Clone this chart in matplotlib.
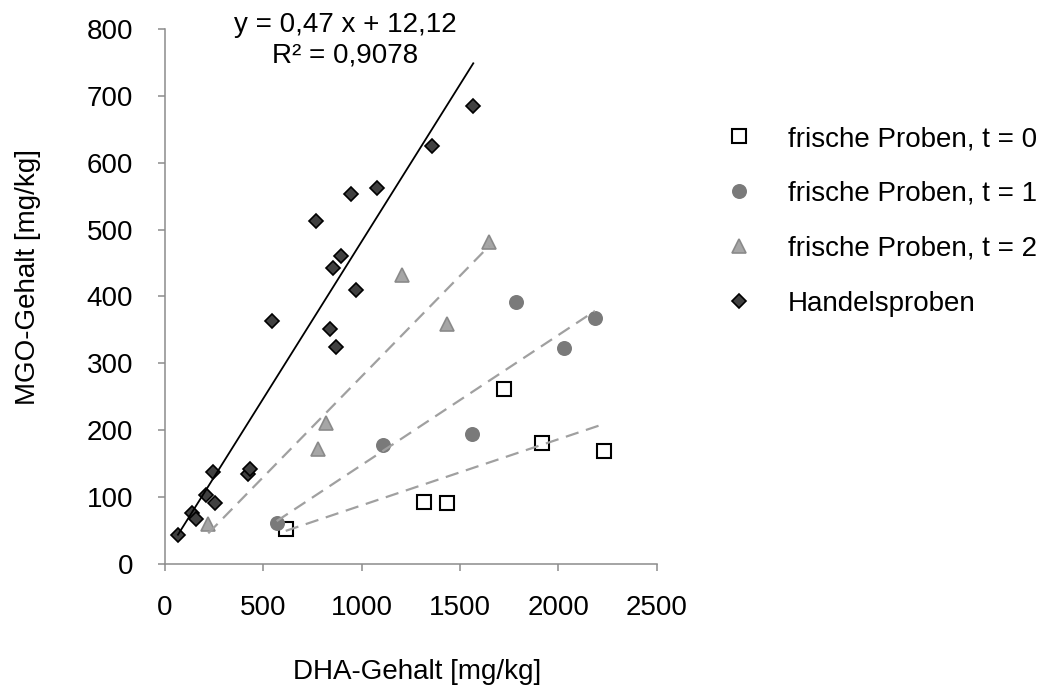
import numpy as np
import matplotlib.pyplot as plt

plt.rcParams['font.family'] = ['Liberation Sans', 'DejaVu Sans']

# DHA / MGO values [mg/kg]
t0_dha = [614, 1319, 1433, 1726, 1916, 2233]
t0_mgo = [51, 92, 90, 261, 181, 168]

t1_dha = [568, 1107, 1560, 1787, 2031, 2187]
t1_mgo = [61, 178, 194, 392, 323, 367]

t2_dha = [220, 780, 817, 1207, 1434, 1650]
t2_mgo = [59, 172, 211, 432, 358, 481]

handel_dha = [66, 136, 156, 209, 246, 254, 424, 432, 543, 768,
              839, 856, 868, 894, 948, 970, 1080, 1360, 1568]
handel_mgo = [43, 76, 66, 103, 137, 91, 134, 141, 363, 513,
              351, 443, 324, 460, 554, 409, 562, 625, 685]

# linear trend for the commercial samples
slope, intercept = 0.47, 12.12
r2 = 0.9078

labels = ["frische Proben, t = 0", "frische Proben, t = 1",
          "frische Proben, t = 2", "Handelsproben"]

fig = plt.figure(figsize=(10.57, 6.91), dpi=100)
ax = fig.add_axes([0.1561, 0.1845, 0.4650, 0.7731])

ax.plot(t0_dha, t0_mgo, 's', ms=10, mfc='white', mec='black', mew=1.5,
        label=labels[0], zorder=3)
ax.plot(t1_dha, t1_mgo, 'o', ms=10.8, mfc='#7a7a7a', mec='#7a7a7a', mew=0,
        label=labels[1], zorder=3)
ax.plot(t2_dha, t2_mgo, '^', ms=10.5, mfc='#a6a6a6', mec='#8a8a8a', mew=1.2,
        label=labels[2], zorder=3)
ax.plot(handel_dha, handel_mgo, 'D', ms=7.4, mfc='#404040', mec='black', mew=1.2,
        label=labels[3], zorder=3)

# dashed trendlines for the fresh samples
for xs, ys in [(t0_dha, t0_mgo), (t1_dha, t1_mgo), (t2_dha, t2_mgo)]:
    m, b = np.polyfit(xs, ys, 1)
    xl = np.array([min(xs), max(xs)])
    ax.plot(xl, m * xl + b, color='#a0a0a0', lw=1.6, dashes=(6, 3.5), zorder=4)

xl = np.array([min(handel_dha), max(handel_dha)])
ax.plot(xl, slope * xl + intercept, color='black', lw=1.3, zorder=4)

eq = "y = " + f"{slope:.2f}".replace('.', ',') + " x + " + f"{intercept:.2f}".replace('.', ',')
eq2 = "R² = " + f"{r2:.4f}".replace('.', ',')
ax.text(916, 784, eq + "\n" + eq2, ha='center', va='center', fontsize=20,
        linespacing=1.22, clip_on=False)

ax.set_xlim(0, 2500)
ax.set_ylim(0, 800)
ax.set_xticks(range(0, 2501, 500))
ax.set_yticks(range(0, 801, 100))

for side in ['top', 'right']:
    ax.spines[side].set_visible(False)
for side in ['left', 'bottom']:
    ax.spines[side].set_color('#8c8c8c')
    ax.spines[side].set_linewidth(1.1)
ax.tick_params(axis='both', direction='out', length=5, width=1.1, color='#8c8c8c',
               labelsize=20, pad=18)

ax.set_xlabel("DHA-Gehalt [mg/kg]", fontsize=20, va='center')
ax.set_ylabel("MGO-Gehalt [mg/kg]", fontsize=20, va='center')
ax.xaxis.set_label_coords(0.512, -0.203)
ax.yaxis.set_label_coords(-0.279, 0.536)

fig.legend(loc='upper left', bbox_to_anchor=(725 / 1057, 1 - 126 / 691),
           frameon=False, fontsize=20, handlelength=1.0, handletextpad=1.25,
           labelspacing=1.04, borderpad=0, borderaxespad=0, numpoints=1)

plt.savefig("out.png", dpi=100)
